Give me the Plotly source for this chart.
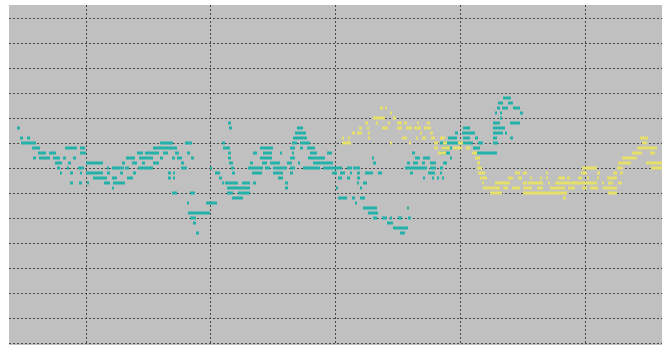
import plotly.graph_objects as go

# ---- teal series: horizontal runs (x start, x end, level) ----
teal_x_start = [503, 498, 508, 497, 502, 513, 495, 500, 520, 500,
                228, 493, 510,
                17, 229, 297, 463, 493,
                295, 455, 462, 493, 505,
                20, 27, 293, 448, 463, 475, 493, 510,
                21, 160, 185, 222, 292, 300, 440, 462, 478, 493,
                32, 65, 80, 153, 223, 260, 290, 300, 307, 442, 473,
                38, 49, 80, 137, 145, 163, 175, 187, 228, 253, 263, 280, 292, 310, 327, 412, 440, 477,
                33, 39, 53, 63, 73, 126, 139, 160, 172, 177, 191, 228, 260, 290, 308, 372, 415, 423, 450,
                55, 68, 86, 122, 132, 142, 153, 181, 229, 250, 262, 270, 287, 298, 313, 373, 407, 413, 422, 430, 443,
                57, 67, 78, 107, 112, 125, 138, 181, 210, 231, 248, 265, 273, 290, 303, 323, 347, 353, 405, 430, 440,
                60, 70, 80, 86, 107, 120, 133, 168, 173, 215, 232, 252, 273, 290, 332, 340, 350, 357, 365, 378, 410, 428, 440,
                93, 112, 127, 168, 173, 219, 278, 338, 347, 357, 423, 432, 437, 442,
                70, 79, 87, 104, 113, 222, 225, 242, 253, 285, 357, 363,
                112, 227, 285, 336, 360,
                172, 190, 227, 238,
                232, 338, 352, 360,
                187, 206, 355,
                363, 407,
                188, 368,
                190, 373, 382, 390, 398, 408,
                193, 387,
                393,
                196, 400]
teal_x_end = [511, 503, 513, 500, 508, 520, 497, 502, 523, 502,
              231, 500, 520,
              20, 232, 303, 470, 505,
              306, 458, 475, 503, 507,
              23, 30, 307, 457, 470, 478, 497, 513,
              36, 173, 192, 225, 297, 310, 460, 473, 483, 498,
              40, 77, 85, 177, 230, 273, 295, 303, 315, 452, 480,
              46, 56, 86, 143, 159, 168, 179, 190, 231, 257, 272, 282, 294, 317, 332, 415, 450, 497,
              36, 50, 60, 66, 76, 135, 153, 163, 175, 182, 194, 231, 272, 295, 325, 374, 420, 430, 452,
              62, 71, 103, 125, 137, 145, 159, 184, 233, 253, 267, 280, 292, 300, 333, 376, 410, 418, 425, 436, 447,
              60, 69, 84, 109, 124, 129, 153, 187, 212, 234, 263, 270, 287, 295, 320, 342, 352, 360, 427, 436, 443,
              62, 73, 82, 103, 110, 123, 136, 171, 175, 220, 235, 262, 283, 293, 337, 345, 352, 360, 373, 382, 413, 435, 442,
              107, 117, 133, 171, 175, 222, 283, 342, 350, 360, 425, 434, 439, 444,
              73, 82, 89, 110, 125, 224, 238, 250, 256, 288, 359, 367,
              114, 250, 288, 338, 362,
              177, 195, 233, 250,
              243, 347, 355, 365,
              189, 217, 357,
              377, 409,
              210, 378,
              196, 377, 387, 392, 402, 411,
              196, 393,
              408,
              199, 405]
teal_level = [14, 13, 13, 12, 12, 12, 11, 11, 11, 10,
              9, 9, 9,
              8, 8, 8, 8, 8,
              7, 7, 7, 7, 7,
              6, 6, 6, 6, 6, 6, 6, 6,
              5, 5, 5, 5, 5, 5, 5, 5, 5, 5,
              4, 4, 4, 4, 4, 4, 4, 4, 4, 4, 4,
              3, 3, 3, 3, 3, 3, 3, 3, 3, 3, 3, 3, 3, 3, 3, 3, 3, 3,
              2, 2, 2, 2, 2, 2, 2, 2, 2, 2, 2, 2, 2, 2, 2, 2, 2, 2, 2,
              1, 1, 1, 1, 1, 1, 1, 1, 1, 1, 1, 1, 1, 1, 1, 1, 1, 1, 1, 1, 1,
              0, 0, 0, 0, 0, 0, 0, 0, 0, 0, 0, 0, 0, 0, 0, 0, 0, 0, 0, 0, 0,
              -1, -1, -1, -1, -1, -1, -1, -1, -1, -1, -1, -1, -1, -1, -1, -1, -1, -1, -1, -1, -1, -1, -1,
              -2, -2, -2, -2, -2, -2, -2, -2, -2, -2, -2, -2, -2, -2,
              -3, -3, -3, -3, -3, -3, -3, -3, -3, -3, -3, -3,
              -4, -4, -4, -4, -4,
              -5, -5, -5, -5,
              -6, -6, -6, -6,
              -7, -7, -7,
              -8, -8,
              -9, -9,
              -10, -10, -10, -10, -10, -10,
              -11, -11,
              -12,
              -13, -13]

# ---- yellow series ----
yellow_x_start = [380, 385,
                  390,
                  373, 393,
                  365, 376, 388, 397, 404, 417, 427,
                  359, 367, 382, 397, 406, 414, 424,
                  352, 357, 368, 420, 430,
                  342, 348, 368, 402, 416, 422, 431, 440, 640,
                  342, 390, 409, 434, 443, 458, 642,
                  434, 442, 453, 466, 637,
                  438, 472, 632, 650,
                  475, 622,
                  477, 618, 646,
                  477, 582, 617, 651,
                  478, 515, 523, 546, 581, 597, 613, 620,
                  480, 508, 518, 530, 540, 546, 558, 567, 578, 587, 597, 607,
                  482, 495, 523, 528, 548, 555, 602, 608, 618,
                  483, 503, 512, 523, 537, 550, 568, 582, 590, 603,
                  490, 523, 608,
                  563]
yellow_x_end = [383, 387,
                392,
                385, 396,
                368, 378, 390, 402, 407, 419, 430,
                362, 369, 388, 402, 412, 421, 431,
                355, 362, 370, 422, 433,
                344, 350, 370, 407, 418, 426, 435, 445, 648,
                351, 392, 411, 438, 447, 463, 647,
                438, 450, 462, 470, 657,
                446, 477, 642, 655,
                480, 637,
                480, 631, 662,
                482, 597, 623, 662,
                485, 520, 527, 548, 587, 600, 617, 623,
                487, 513, 522, 532, 542, 548, 565, 570, 582, 589, 599, 617,
                484, 510, 527, 543, 550, 597, 604, 613, 622,
                500, 508, 520, 532, 543, 565, 575, 587, 598, 617,
                502, 567, 617,
                566]
yellow_level = [12, 12,
                11,
                10, 10,
                9, 9, 9, 9, 9, 9, 9,
                8, 8, 8, 8, 8, 8, 8,
                7, 7, 7, 7, 7,
                6, 6, 6, 6, 6, 6, 6, 6, 6,
                5, 5, 5, 5, 5, 5, 5,
                4, 4, 4, 4, 4,
                3, 3, 3, 3,
                2, 2,
                1, 1, 1,
                0, 0, 0, 0,
                -1, -1, -1, -1, -1, -1, -1, -1,
                -2, -2, -2, -2, -2, -2, -2, -2, -2, -2, -2, -2,
                -3, -3, -3, -3, -3, -3, -3, -3, -3,
                -4, -4, -4, -4, -4, -4, -4, -4, -4, -4,
                -5, -5, -5,
                -6]


def runs_to_xy(x0s, x1s, lv):
    xs, ys = [], []
    for a, b, y in zip(x0s, x1s, lv):
        xs += [a, b, None]
        ys += [y, y, None]
    return xs, ys


tx, ty = runs_to_xy(teal_x_start, teal_x_end, teal_level)
yx, yy = runs_to_xy(yellow_x_start, yellow_x_end, yellow_level)

fig = go.Figure()
fig.add_trace(go.Scatter(x=tx, y=ty, mode="lines", connectgaps=False,
                         line=dict(color="#22b2aa", width=3), hoverinfo="skip"))
fig.add_trace(go.Scatter(x=yx, y=yy, mode="lines", connectgaps=False,
                         line=dict(color="#e6e06a", width=3), hoverinfo="skip"))

fig.update_layout(
    width=662, height=345,
    margin=dict(l=9, r=0, t=5, b=0),
    paper_bgcolor="white",
    plot_bgcolor="#c0c0c0",
    showlegend=False,
)
fig.update_xaxes(range=[9, 662], tick0=86, dtick=124.75, showgrid=True,
                 gridcolor="#4a4a4a", gridwidth=1, griddash="2px,2px",
                 showticklabels=False, zeroline=False, showline=False, ticks="")
fig.update_yaxes(range=[-35.4, 32.6], tick0=0, dtick=5, showgrid=True,
                 gridcolor="#4a4a4a", gridwidth=1, griddash="2px,2px",
                 showticklabels=False, zeroline=False, showline=False, ticks="")

fig.write_html("out.html", config={"displayModeBar": False},
               post_script="document.body.style.margin='0';document.body.style.padding='0';")
